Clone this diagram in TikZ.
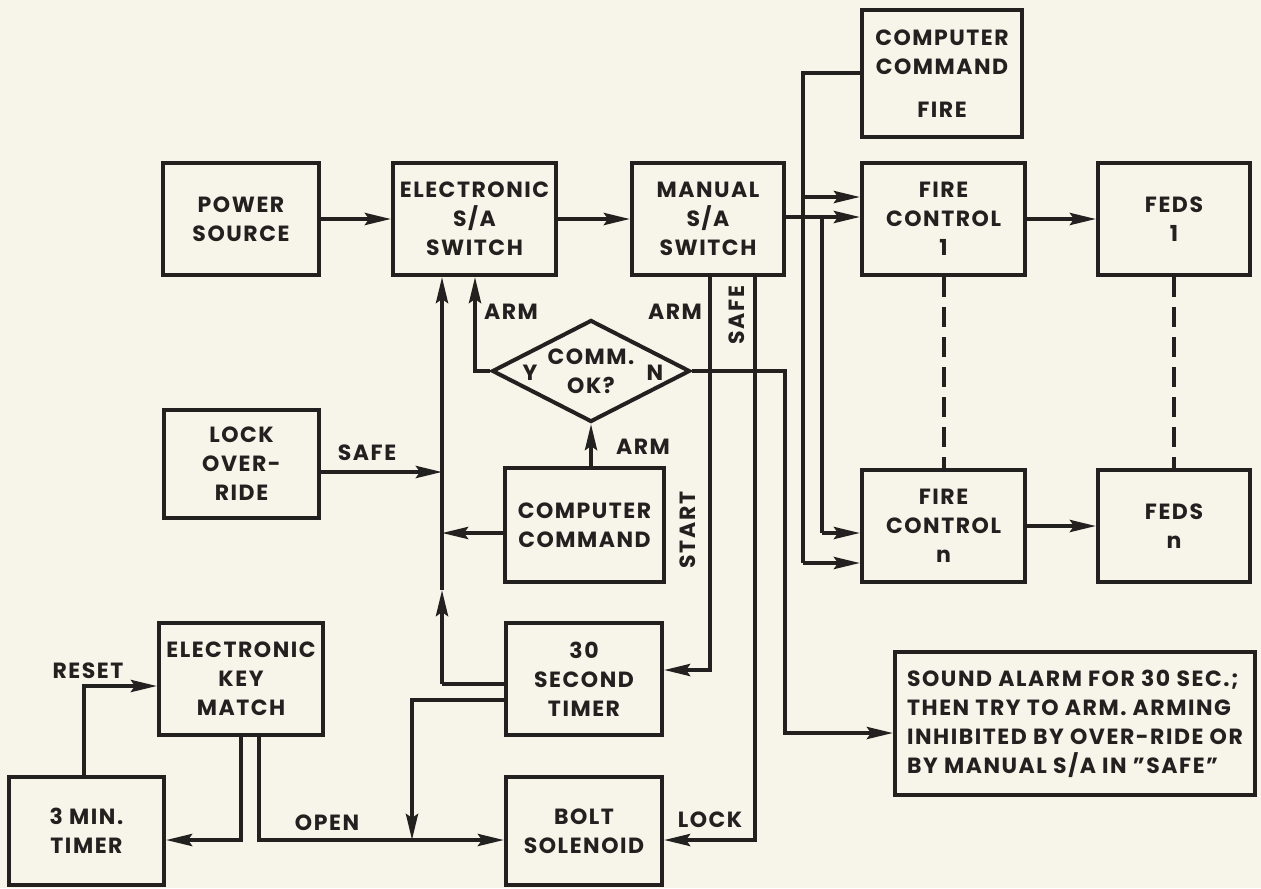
\documentclass[tikz,border=0pt]{standalone}
\usepackage{fontspec}
\setmainfont{Poppins}[LetterSpace=7]
\usetikzlibrary{arrows.meta,shapes.geometric,calc}
\definecolor{paper}{RGB}{247,244,234}
\definecolor{ink}{RGB}{35,33,32}
\newcommand\diaglab{\bfseries\fontsize{11pt}{14.5pt}\selectfont}
\begin{document}
\begin{tikzpicture}[x=0.5pt,y=-0.5pt,
  box/.style={draw=ink,line width=2pt,inner sep=0pt,align=center,font=\diaglab,text=ink},
  wire/.style={draw=ink,line width=2pt},
  arr/.style={wire,-{Stealth[length=13pt,width=6pt,inset=2pt]}},
  lbl/.style={font=\diaglab,text=ink,inner sep=0pt},
  dashline/.style={wire,dash pattern=on 10pt off 5pt}]
\fill[paper] (0,0) rectangle (1261,888);
\useasboundingbox (0,0) rectangle (1261,888);
% boxes
\node[box,minimum width=78pt,minimum height=56pt] (pow) at (241,219) {POWER\\SOURCE};
\node[box,minimum width=81.5pt,minimum height=56pt] (esa) at (474.5,219) {ELECTRONIC\\S/A\\SWITCH};
\node[box,minimum width=76pt,minimum height=56pt] (msa) at (708,219) {MANUAL\\S/A\\SWITCH};
\node[box,minimum width=80pt,minimum height=63.5pt] (ccf) at (942,73.5) {COMPUTER\\COMMAND\\[7pt]FIRE};
\node[box,minimum width=81.5pt,minimum height=56pt] (fc1) at (943.5,219) {FIRE\\CONTROL\\1};
\node[box,minimum width=76pt,minimum height=56pt] (feds1) at (1174,219) {FEDS\\1};
\node[box,minimum width=81.5pt,minimum height=56pt] (fcn) at (943.5,526) {FIRE\\CONTROL\\n};
\node[box,minimum width=76pt,minimum height=56pt] (fedsn) at (1174,526) {FEDS\\n};
\node[box,minimum width=77.5pt,minimum height=54pt] (lock) at (241.5,464) {LOCK\\OVER-\\RIDE};
\node[box,minimum width=79.5pt,minimum height=57pt] (cc) at (584.5,525) {COMPUTER\\COMMAND};
\node[box,diamond,aspect=1.94,minimum width=99pt,minimum height=51pt] (dec) at (591,371) {COMM.\\OK?};
\node[box,minimum width=78pt,minimum height=56pt] (t30) at (584,679) {30\\SECOND\\TIMER};
\node[box,minimum width=78pt,minimum height=54pt] (bolt) at (584,831) {BOLT\\SOLENOID};
\node[box,minimum width=82pt,minimum height=56pt] (key) at (241,679) {ELECTRONIC\\KEY\\MATCH};
\node[box,minimum width=77.5pt,minimum height=54pt] (t3) at (86.5,831) {3 MIN.\\TIMER};
\node[box,align=left,minimum width=180pt,minimum height=71.5pt] (alarm) at (1075,723.5) {SOUND ALARM FOR 30 SEC.;\\THEN TRY TO ARM. ARMING\\INHIBITED BY OVER-RIDE OR\\BY MANUAL S/A IN "SAFE"};
% junction coordinates
\coordinate (jF) at (803,197);
\coordinate (jFn) at (803,563);
\coordinate (jM) at (822,217);
\coordinate (jMn) at (822,533);
\coordinate (jA) at (710,670);
\coordinate (jS) at (755,840);
\coordinate (jN1) at (785,371);
\coordinate (jN2) at (785,733);
\coordinate (jY) at (475,371);
\coordinate (b1) at (442,684);
\coordinate (bm) at (442,590);
\coordinate (bS) at (442,472);
\coordinate (bC) at (442,533);
\coordinate (d1) at (412,700);
\coordinate (d2) at (412,840);
\coordinate (k1) at (259,840);
\coordinate (k2) at (241,840);
\coordinate (r1) at (84,686);
% top row
\draw[arr] (pow) -- (esa);
\draw[arr] (esa) -- (msa);
\draw[arr] (fc1) -- (feds1);
\draw[arr] (fcn) -- (fedsn);
\draw[dashline] (fc1.south) -- (fcn.north);
\draw[dashline] (feds1.south) -- (fedsn.north);
% fire command
\draw[wire] (ccf.west) -| (jFn);
\draw[arr] (jFn) -- (fcn.west |- jFn);
\draw[arr] (jF) -- (fc1.west |- jF);
% manual output
\draw[arr] (msa.east |- jM) -- (fc1.west |- jM);
\draw[wire] (jM) -- (jMn);
\draw[arr] (jMn) -- (fcn.west |- jMn);
% manual bottom
\draw[arr] (msa.south -| jA) -- (jA) -- (t30.east |- jA);
\draw[arr] (msa.south -| jS) -- (jS) -- (bolt.east |- jS);
% decision
\draw[arr] (dec.east) -- (jN1) -- (jN2) -- (alarm.west |- jN2);
\draw[arr] (dec.west) -- (jY) -- (esa.south -| jY);
\draw[arr] (cc.north -| dec.south) -- (dec.south);
% bus
\draw[wire] (t30.west |- b1) -- (b1);
\draw[arr] (b1) -- (bm);
\draw[arr] (bm) -- (esa.south -| bm);
\draw[arr] (lock.east |- bS) -- (bS);
\draw[arr] (cc.west |- bC) -- (bC);
\draw[arr] (t30.west |- d1) -- (d1) -- (d2);
% key match
\draw[arr] (key.south -| k1) -- (k1) -- (bolt.west |- k1);
\draw[arr] (key.south -| k2) -- (k2) -- (t3.east |- k2);
\draw[arr] (t3.north -| r1) -- (r1) -- (key.west |- r1);
% labels
\node[lbl] (lArm1) at (511,312) {ARM};
\node[lbl] (lArm2) at (675,312) {ARM};
\node[lbl,rotate=90] (lSafe1) at (737,315) {SAFE};
\node[lbl] (lY) at (530,373) {Y};
\node[lbl] (lN) at (655,373) {N};
\node[lbl] (lArm3) at (643,447) {ARM};
\node[lbl] (lSafe2) at (367,453) {SAFE};
\node[lbl,rotate=90] (lStart) at (688,530) {START};
\node[lbl] (lReset) at (88,671) {RESET};
\node[lbl] (lOpen) at (327,823) {OPEN};
\node[lbl] (lLock) at (710,820) {LOCK};
\end{tikzpicture}
\end{document}
